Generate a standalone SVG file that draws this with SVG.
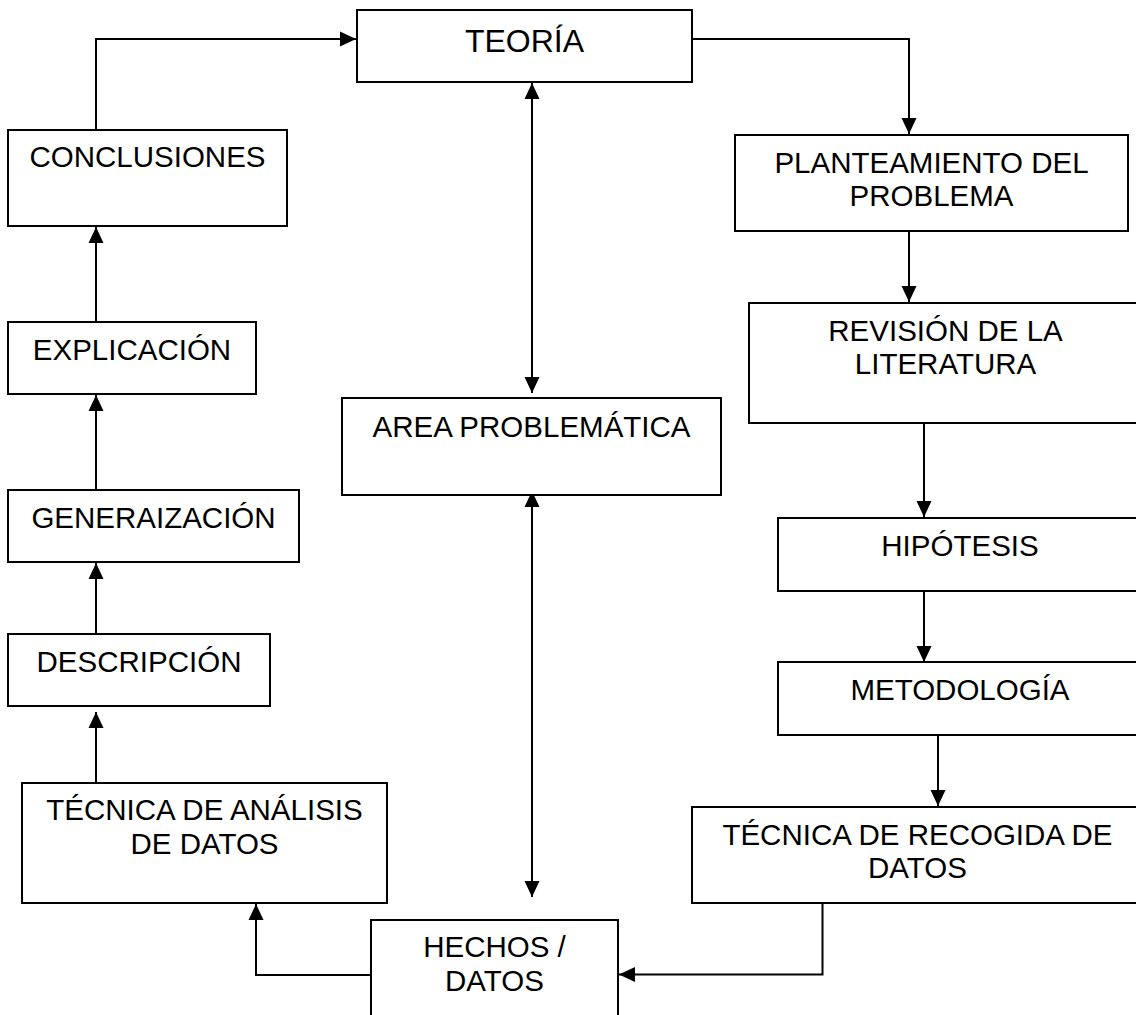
<svg xmlns="http://www.w3.org/2000/svg" width="1136" height="1015" viewBox="0 0 1136 1015">
<style>
.box{fill:#fff;stroke:#000;stroke-width:2}
.lbl{font-family:"Liberation Sans",Arial,sans-serif;font-size:29.5px;fill:#000;text-anchor:middle}
.big{font-size:32px}
.con{fill:none;stroke:#000;stroke-width:2}
</style>
<defs>
<marker id="ah" markerUnits="userSpaceOnUse" markerWidth="16" markerHeight="16" viewBox="0 0 16 16" refX="16" refY="8" orient="auto-start-reverse">
<path d="M0,0.5 L16,8 L0,15.5 z" fill="#000"/>
</marker>
</defs>
<rect width="1136" height="1015" fill="#fff"/>
<g id="connectors">
<path class="con" d="M96,130 V39 H356" marker-end="url(#ah)"/>
<path class="con" d="M692,39 H909 V134" marker-end="url(#ah)"/>
<path class="con" d="M909,231 V302" marker-end="url(#ah)"/>
<path class="con" d="M924,423 V517" marker-end="url(#ah)"/>
<path class="con" d="M924,591 V662" marker-end="url(#ah)"/>
<path class="con" d="M938,735 V806" marker-end="url(#ah)"/>
<path class="con" d="M822.5,903 V974.5 H619" marker-end="url(#ah)"/>
<path class="con" d="M371,975 H256 V904" marker-end="url(#ah)"/>
<path class="con" d="M96,783 V712" marker-end="url(#ah)"/>
<path class="con" d="M96,634 V563" marker-end="url(#ah)"/>
<path class="con" d="M96,490 V395" marker-end="url(#ah)"/>
<path class="con" d="M96,322 V227" marker-end="url(#ah)"/>
<path class="con" d="M532,83 V393" marker-start="url(#ah)" marker-end="url(#ah)"/>
<path class="con" d="M532,491 V897" marker-start="url(#ah)" marker-end="url(#ah)"/>
</g>
<g id="teoria"><rect class="box" x="357" y="10" width="335" height="72"/><text class="lbl big" x="524.5" y="52">TEORÍA</text></g>
<g id="conclusiones"><rect class="box" x="8" y="130" width="279" height="96"/><text class="lbl" x="147.5" y="167">CONCLUSIONES</text></g>
<g id="explicacion"><rect class="box" x="8" y="322" width="248" height="72"/><text class="lbl" x="132" y="360">EXPLICACIÓN</text></g>
<g id="generalizacion"><rect class="box" x="8" y="490" width="291" height="72"/><text class="lbl" x="153.5" y="528">GENERAIZACIÓN</text></g>
<g id="descripcion"><rect class="box" x="8" y="634" width="262" height="72"/><text class="lbl" x="139" y="672">DESCRIPCIÓN</text></g>
<g id="analisis"><rect class="box" x="22" y="783" width="365" height="120"/><text class="lbl" x="204.5" y="820">TÉCNICA DE ANÁLISIS</text><text class="lbl" x="204.5" y="853.5">DE DATOS</text></g>
<g id="area"><rect class="box" x="342" y="398" width="379" height="97"/><text class="lbl" x="531.5" y="437">AREA PROBLEMÁTICA</text></g>
<g id="hechos"><rect class="box" x="371" y="920" width="247" height="110"/><text class="lbl" x="494.5" y="957">HECHOS /</text><text class="lbl" x="494.5" y="991">DATOS</text></g>
<g id="planteamiento"><rect class="box" x="735" y="135" width="393" height="96"/><text class="lbl" x="931.5" y="173">PLANTEAMIENTO DEL</text><text class="lbl" x="931.5" y="206">PROBLEMA</text></g>
<g id="revision"><rect class="box" x="749" y="303" width="393" height="120"/><text class="lbl" x="945.5" y="341">REVISIÓN DE LA</text><text class="lbl" x="945.5" y="374">LITERATURA</text></g>
<g id="hipotesis"><rect class="box" x="778" y="518" width="364" height="73"/><text class="lbl" x="960" y="556">HIPÓTESIS</text></g>
<g id="metodologia"><rect class="box" x="778" y="662" width="364" height="73"/><text class="lbl" x="960" y="700">METODOLOGÍA</text></g>
<g id="recogida"><rect class="box" x="692" y="807" width="451" height="96"/><text class="lbl" x="917.5" y="845">TÉCNICA DE RECOGIDA DE</text><text class="lbl" x="917.5" y="877.5">DATOS</text></g>
</svg>
